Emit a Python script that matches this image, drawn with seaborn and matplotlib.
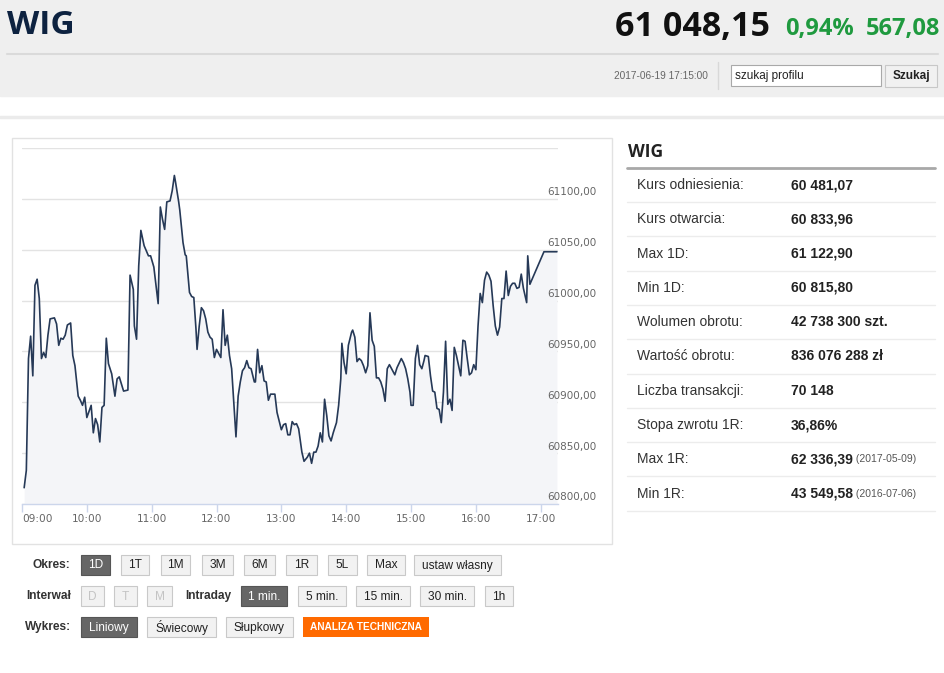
import matplotlib
matplotlib.use("Agg")
import matplotlib.pyplot as plt
import matplotlib.transforms as mtransforms
from matplotlib.patches import Rectangle
import seaborn as sns
import pandas as pd

# WIG intraday, 2017-06-19: minutes after 09:00 and index level
minutes = [2, 4, 6, 8, 10, 12, 14, 16, 18, 20, 22, 24, 26, 30, 32, 34, 36, 38, 40, 42,
           45, 47, 49, 52, 54, 56, 58, 60, 64, 66, 68, 70, 72, 74, 76, 78, 80, 83, 86, 88,
           90, 94, 98, 100, 103, 104, 106, 108, 110, 113, 117, 119, 122, 124, 126, 128, 130, 132, 134, 137,
           139, 141, 142, 145, 146, 149, 151, 152, 155, 157, 159, 161, 162, 164, 166, 168, 170, 172, 174, 176,
           178, 180, 184, 186, 188, 190, 192, 194, 196, 198, 200, 202, 204, 206, 208, 210, 212, 215, 216, 218,
           220, 222, 224, 226, 228, 230, 234, 236, 240, 242, 244, 246, 248, 250, 252, 254, 256, 259, 261, 264,
           266, 268, 270, 272, 274, 276, 278, 280, 282, 284, 286, 288, 291, 293, 295, 296, 298, 300, 302, 305,
           306, 308, 310, 312, 314, 316, 318, 320, 322, 324, 326, 328, 330, 332, 334, 336, 338, 340, 342, 345,
           347, 351, 353, 355, 357, 359, 360, 362, 364, 366, 368, 370, 372, 373, 376, 378, 380, 382, 384, 386,
           388, 390, 392, 394, 396, 398, 400, 402, 404, 406, 408, 410, 412, 414, 416, 418, 420, 422, 424, 426,
           428, 430, 432, 434, 436, 438, 440, 442, 444, 446, 448, 450, 452, 454, 456, 458, 460, 462, 464, 467,
           468, 470, 483, 495]
levels = [60816, 60833, 60943, 60965, 60926, 61015, 61021, 61002, 60943, 60949, 60944, 60966, 60982, 60983, 60977, 60956, 60963, 60962, 60966, 60976,
          60978, 60946, 60936, 60906, 60902, 60897, 60905, 60885, 60897, 60870, 60884, 60878, 60861, 60895, 60897, 60963, 60938, 60928, 60906, 60923,
          60925, 60911, 60912, 61025, 61011, 60975, 60962, 61034, 61069, 61054, 61044, 61044, 61033, 61015, 60997, 61092, 61080, 61070, 61097, 61098,
          61108, 61123, 61117, 61097, 61089, 61057, 61045, 61044, 61008, 61004, 61003, 60972, 60952, 60975, 60993, 60990, 60982, 60969, 60964, 60962,
          60944, 60952, 60944, 60991, 60956, 60966, 60946, 60933, 60900, 60866, 60906, 60920, 60931, 60934, 60941, 60934, 60933, 60920, 60920, 60952,
          60929, 60936, 60921, 60920, 60902, 60908, 60908, 60890, 60873, 60878, 60879, 60868, 60868, 60881, 60878, 60879, 60874, 60851, 60842, 60846,
          60850, 60840, 60851, 60851, 60857, 60870, 60861, 60903, 60887, 60867, 60862, 60870, 60880, 60897, 60923, 60958, 60939, 60928, 60956, 60969,
          60971, 60964, 60940, 60943, 60941, 60936, 60929, 60936, 60988, 60961, 60955, 60924, 60924, 60920, 60913, 60901, 60933, 60937, 60933, 60927,
          60934, 60943, 60939, 60933, 60923, 60910, 60897, 60897, 60943, 60956, 60937, 60933, 60941, 60946, 60945, 60926, 60911, 60910, 60894, 60893,
          60880, 60910, 60960, 60898, 60903, 60892, 60954, 60946, 60936, 60926, 60961, 60960, 60943, 60927, 60929, 60937, 60932, 60975, 61007, 60998,
          61020, 61028, 61025, 61019, 60995, 60975, 60966, 60974, 61002, 61002, 61029, 61005, 61014, 61017, 61017, 61012, 61013, 61026, 61012, 60998,
          61044, 61016, 61048, 61048]

y_ticks = [60800, 60850, 60900, 60950, 61000, 61050, 61100, 61150]
x_ticks = [0, 60, 120, 180, 240, 300, 360, 420, 480]
x_tick_labels = ["09:00", "10:00", "11:00", "12:00", "13:00", "14:00", "15:00", "16:00", "17:00"]

stat_labels = ["Kurs odniesienia:", "Kurs otwarcia:", "Max 1D:", "Min 1D:", "Wolumen obrotu:",
               "Wartość obrotu:", "Liczba transakcji:", "Stopa zwrotu 1R:", "Max 1R:", "Min 1R:"]
stat_values = ["60 481,07", "60 833,96", "61 122,90", "60 815,80", "42 738 300 szt.",
               "836 076 288 zł", "70 148", "36,86%", "62 336,39", "43 549,58"]
stat_dates = ["", "", "", "", "", "", "", "", "(2017-05-09)", "(2016-07-06)"]

period_buttons = ["1D", "1T", "1M", "3M", "6M", "1R", "5L", "Max", "ustaw własny"]
interval_buttons = ["D", "T", "M"]
intraday_buttons = ["1 min.", "5 min.", "15 min.", "30 min.", "1h"]
chart_buttons = ["Liniowy", "Świecowy", "Słupkowy"]

# button geometry in page pixels
period_x = [(81, 110), (121, 149), (161, 190), (202, 233), (244, 275), (286, 317), (328, 357), (367, 405), (414, 501)]
interval_x = [(81, 104), (114, 137), (147, 172)]
intraday_x = [(241, 287), (298, 346), (356, 410), (420, 474), (485, 513)]
chart_x = [(81, 137), (147, 216), (226, 293)]

sns.set_style("white")
plt.rcParams["font.family"] = ["Liberation Sans", "DejaVu Sans"]

fig = plt.figure(figsize=(9.45, 6.73), dpi=100)
bg = fig.add_axes([0, 0, 1, 1])
bg.set_xlim(0, 945)
bg.set_ylim(673, 0)
bg.axis("off")

# header band
bg.add_patch(Rectangle((0, 0), 945, 96, color="#efefef", zorder=0))
bg.plot([7, 938], [54, 54], color="#dadada", lw=1.5)
bg.plot([0, 945], [117, 117], color="#ebebeb", lw=2.5)
bg.text(7, 26, "WIG", fontsize=24, fontweight="bold", color="#0d2240",
        family="Open Sans", va="center")
bg.text(770, 27, "61 048,15", fontsize=24.5, fontweight="bold", color="#111111",
        family="Open Sans", va="center", ha="right")
bg.text(785, 29, "0,94%", fontsize=17, fontweight="bold", color="#1f9a3f",
        family="Open Sans", va="center")
bg.text(940, 29, "567,08", fontsize=17, fontweight="bold", color="#1f9a3f",
        family="Open Sans", va="center", ha="right")
bg.text(708, 76, "2017-06-19 17:15:00", fontsize=7.3, color="#666666", va="center", ha="right")
bg.plot([718, 718], [62, 89], color="#d8d8d8", lw=1)
bg.add_patch(Rectangle((731, 65), 150, 21, facecolor="white", edgecolor="#a9a9a9", lw=0.8))
bg.text(735, 75.5, "szukaj profilu", fontsize=8.5, color="#222222", va="center")
bg.add_patch(Rectangle((885, 65), 52, 22, facecolor="#f1f1f1", edgecolor="#c8c8c8", lw=0.8))
bg.text(911, 76, "Szukaj", fontsize=8.5, fontweight="bold", color="#222222", va="center", ha="center")

# chart frame
bg.add_patch(Rectangle((12, 138), 600, 406, facecolor="white", edgecolor="#e2e2e2", lw=1))

# statistics panel
bg.text(628, 152, "WIG", fontsize=12.5, fontweight="bold", color="#222222",
        family="Open Sans", va="center")
bg.plot([627, 935], [168, 168], color="#a8a8a8", lw=2)
for i, (lab, val, dt) in enumerate(zip(stat_labels, stat_values, stat_dates)):
    yc = 185 + 34.3 * i
    bg.text(637, yc, lab, fontsize=10, color="#333333", va="center")
    t = bg.text(791, yc, val, fontsize=10, fontweight="bold", color="#222222", va="center")
    if dt:
        bg.annotate(" " + dt, xy=(1, 0.5), xycoords=t, fontsize=7.5, color="#555555",
                    va="center", ha="left")
    bg.plot([627, 935], [yc + 17, yc + 17], color="#ececec", lw=1)


def button(x0, x1, y0, y1, label, state="normal"):
    if state == "active":
        face, edge, tc = "#666666", "#555555", "white"
    else:
        face, edge, tc = "#f2f2f2", "#c9c9c9", "#222222" if state == "normal" else "#c4c4c4"
    bg.add_patch(Rectangle((x0, y0), x1 - x0, y1 - y0, facecolor=face, edgecolor=edge, lw=0.8))
    bg.text((x0 + x1) / 2, (y0 + y1) / 2 + 0.5, label, fontsize=8.6, color=tc,
            ha="center", va="center")


bg.text(70, 565, "Okres:", fontsize=8.6, fontweight="bold", color="#333333", ha="right", va="center")
for lab, (x0, x1) in zip(period_buttons, period_x):
    button(x0, x1, 555, 575, lab, "active" if lab == "1D" else "normal")

bg.text(71, 596, "Interwał", fontsize=8.6, fontweight="bold", color="#333333", ha="right", va="center")
for lab, (x0, x1) in zip(interval_buttons, interval_x):
    button(x0, x1, 586, 606, lab, "disabled")
bg.text(185, 596, "Intraday", fontsize=8.6, fontweight="bold", color="#333333", va="center")
for lab, (x0, x1) in zip(intraday_buttons, intraday_x):
    button(x0, x1, 586, 606, lab, "active" if lab == "1 min." else "normal")

bg.text(71, 627, "Wykres:", fontsize=8.6, fontweight="bold", color="#333333", ha="right", va="center")
for lab, (x0, x1) in zip(chart_buttons, chart_x):
    button(x0, x1, 617, 637, lab, "active" if lab == "Liniowy" else "normal")
bg.add_patch(Rectangle((303, 617), 126, 20, facecolor="#ff6a00", edgecolor="none"))
bg.text(366, 627.5, "ANALIZA TECHNICZNA", fontsize=7.3, fontweight="bold", color="white",
        ha="center", va="center")

# the price chart
W, H = 945, 673
ax = fig.add_axes([22 / W, (H - 504) / H, 536 / W, 356 / H])
ax.set_facecolor("white")
df = pd.DataFrame({"minute": minutes, "level": levels})
ax.fill_between(df["minute"], df["level"], 60800, color="#f4f5f8", lw=0, zorder=1)
sns.lineplot(data=df, x="minute", y="level", ax=ax, color="#263957", lw=1.2, zorder=3)
ax.set_xlim(0, 496)
ax.set_ylim(60800, 61150)
ax.set_yticks(y_ticks)
ax.grid(axis="y", color="#e3e3e3", lw=1, zorder=0)
ax.set_axisbelow(True)
ax.tick_params(axis="y", left=False, labelleft=False)
ax.set_xticks(x_ticks, x_tick_labels)
ax.tick_params(axis="x", bottom=True, length=5.8, width=1, color="#ccd6eb", labelsize=7.6,
               labelcolor="#666666", pad=1.5)
for lab in ax.get_xticklabels():
    lab.set_fontfamily("DejaVu Sans")
ax.get_xticklabels()[0].set_ha("left")
for s in ["top", "left", "right"]:
    ax.spines[s].set_visible(False)
ax.spines["bottom"].set_color("#ccd6eb")
ax.spines["bottom"].set_linewidth(1)
ax.set_xlabel("")
ax.set_ylabel("")

lab_trans = mtransforms.blended_transform_factory(ax.transAxes, ax.transData)
for v in y_ticks[:-1]:
    ax.text(0.9795, v + 1.5, f"{v},00", transform=lab_trans, fontsize=7.5, color="#666666",
            family="DejaVu Sans", va="bottom", ha="left", clip_on=False, zorder=4)

fig.savefig("out.png", dpi=100)
